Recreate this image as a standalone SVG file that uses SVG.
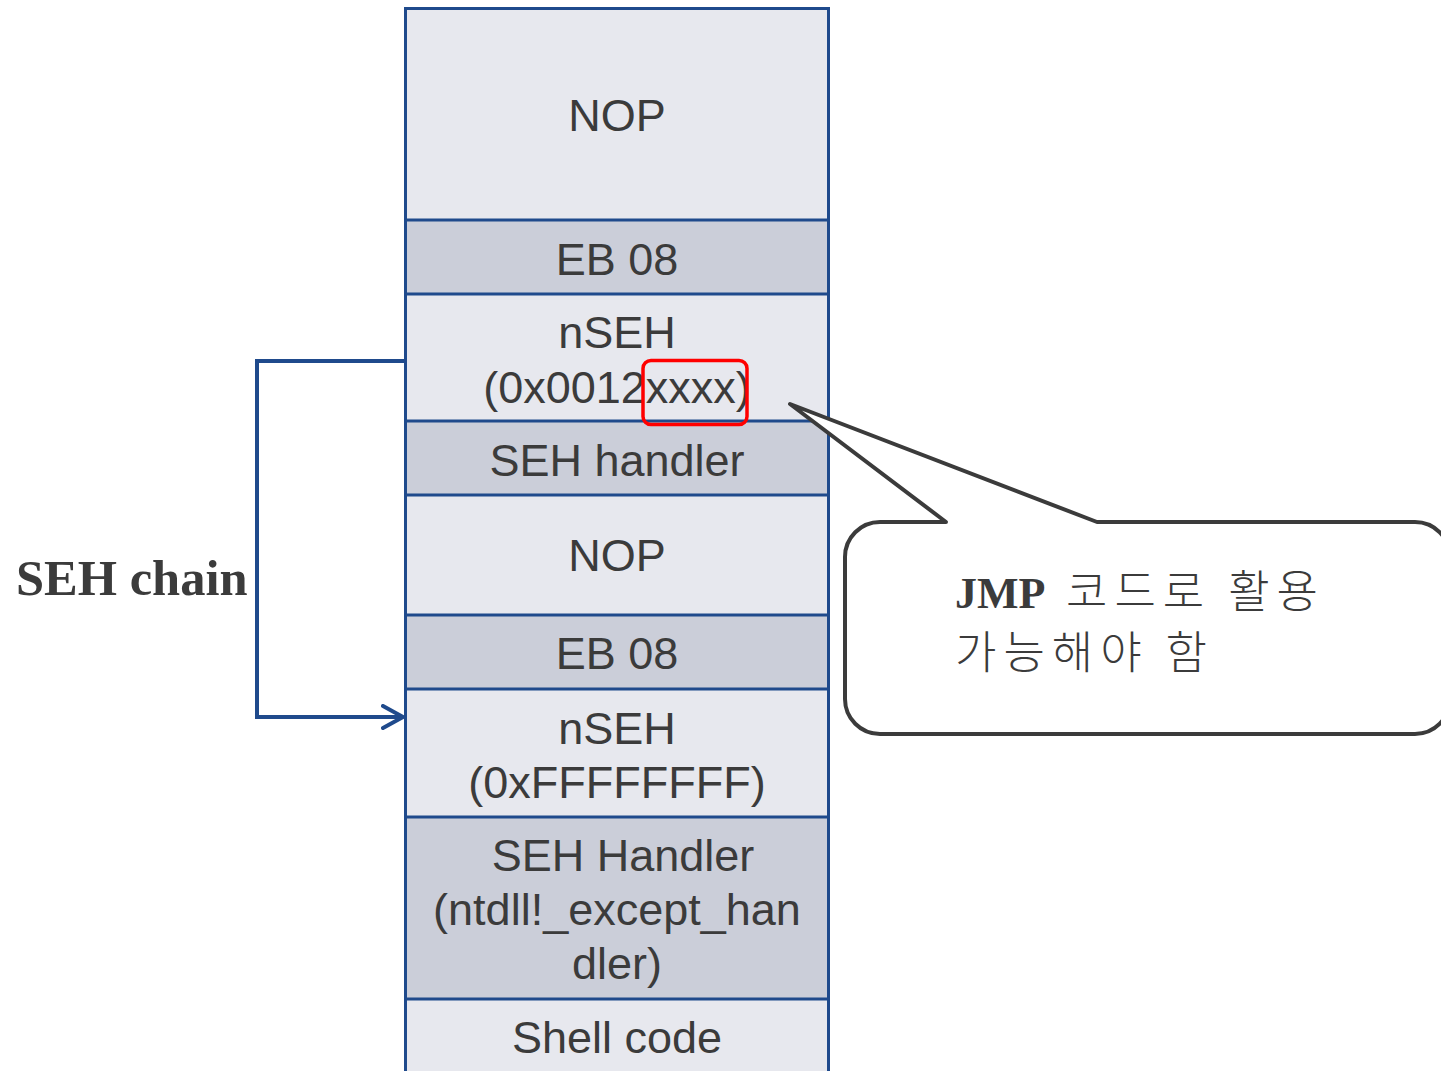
<svg xmlns="http://www.w3.org/2000/svg" width="1441" height="1071" viewBox="0 0 1441 1071">
  <style>
    .light { fill: #E7E8EE; }
    .dark { fill: #CBCED9; }
    .grid { stroke: #1F4A8C; stroke-width: 3; fill: none; }
    .cell { font-family: "Liberation Sans", Arial, sans-serif; font-size: 45px; fill: #3B3B3B; text-anchor: middle; }
    .serif-b { font-family: "Liberation Serif", "Times New Roman", serif; font-weight: bold; fill: #3B3B3B; }
    .kr { font-family: "Noto Sans CJK KR", sans-serif; font-weight: 300; fill: #3B3B3B; font-size: 45px; letter-spacing: 7px; }
    .chain { stroke: #1F4A8C; stroke-width: 4; fill: none; stroke-linejoin: miter; }
  </style>
  <defs>
    <marker id="chevron" viewBox="0 0 24 26" refX="22" refY="13" markerWidth="24" markerHeight="26" markerUnits="userSpaceOnUse" orient="auto">
      <path d="M2,2 L22,13 L2,24" fill="none" stroke="#1F4A8C" stroke-width="4" stroke-linecap="round" stroke-linejoin="round"/>
    </marker>
  </defs>

  <rect width="1441" height="1071" fill="#FFFFFF"/>

  <!-- stack cells -->
  <g id="nop-1">
    <rect class="light" x="405.5" y="8" width="423" height="212"/>
    <text class="cell" x="617" y="131">NOP</text>
  </g>
  <g id="eb08-1">
    <rect class="dark" x="405.5" y="220" width="423" height="74"/>
    <text class="cell" x="617" y="275">EB 08</text>
  </g>
  <g id="nseh-1">
    <rect class="light" x="405.5" y="294" width="423" height="127"/>
    <text class="cell" x="617" y="348">nSEH</text>
    <text class="cell" x="617" y="403">(0x0012xxxx)</text>
  </g>
  <g id="seh-handler-1">
    <rect class="dark" x="405.5" y="421" width="423" height="74"/>
    <text class="cell" x="617" y="476">SEH handler</text>
  </g>
  <g id="nop-2">
    <rect class="light" x="405.5" y="495" width="423" height="120"/>
    <text class="cell" x="617" y="571">NOP</text>
  </g>
  <g id="eb08-2">
    <rect class="dark" x="405.5" y="615" width="423" height="74"/>
    <text class="cell" x="617" y="669">EB 08</text>
  </g>
  <g id="nseh-2">
    <rect class="light" x="405.5" y="689" width="423" height="128"/>
    <text class="cell" x="617" y="744">nSEH</text>
    <text class="cell" x="617" y="798">(0xFFFFFFFF)</text>
  </g>
  <g id="seh-handler-2">
    <rect class="dark" x="405.5" y="817" width="423" height="182"/>
    <text class="cell" x="623" y="871">SEH Handler</text>
    <text class="cell" x="617" y="925">(ntdll!_except_han</text>
    <text class="cell" x="617" y="979">dler)</text>
  </g>
  <g id="shellcode">
    <rect class="light" x="405.5" y="999" width="423" height="80"/>
    <text class="cell" x="617" y="1053">Shell code</text>
  </g>

  <!-- cell borders -->
  <g id="stack-borders" class="grid">
    <path d="M405.5 1075 V8.5 H830 M828.5 8.5 V1075"/>
    <path d="M405.5 220 H830 M405.5 294 H830 M405.5 421 H830 M405.5 495 H830 M405.5 615 H830 M405.5 689 H830 M405.5 817 H830 M405.5 999 H830"/>
  </g>

  <!-- highlight on the low bytes of the nSEH value -->
  <g id="xxxx-highlight">
    <rect x="643" y="360.5" width="104" height="64" rx="8" ry="8" fill="none" stroke="#FF0000" stroke-width="3.5"/>
  </g>

  <!-- chain label -->
  <g id="seh-chain-label">
    <text class="serif-b" x="16" y="595" font-size="50.5">SEH chain</text>
  </g>

  <!-- callout bubble -->
  <g id="callout">
    <path d="M880 522 L946 522 L790 404 L1097 522 L1415 522 A35 35 0 0 1 1450 557 L1450 699 A35 35 0 0 1 1415 734 L880 734 A35 35 0 0 1 845 699 L845 557 A35 35 0 0 1 880 522 Z" fill="#FFFFFF" stroke="#3B3B3B" stroke-width="4" stroke-linejoin="round"/>
    <text x="955" y="608"><tspan class="serif-b" font-size="44">JMP</tspan><tspan class="kr" x="1066">코드로 활용</tspan></text>
    <text class="kr" x="955" y="669">가능해야 함</text>
  </g>

  <!-- connectors -->
  <g id="connectors">
    <path class="chain" d="M407 361 H257 V717 H403" marker-end="url(#chevron)"/>
  </g>
</svg>
